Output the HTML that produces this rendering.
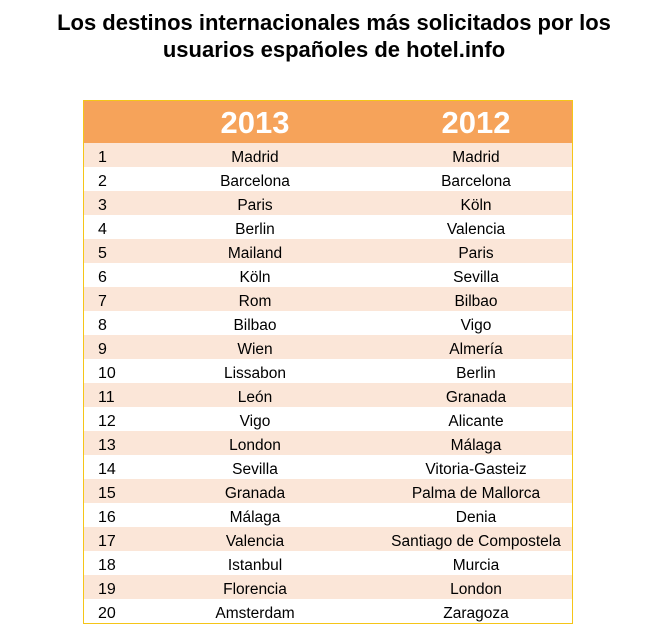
<!DOCTYPE html>
<html><head><meta charset="utf-8"><style>
body{margin:0;width:668px;height:630px;background:#fff;font-family:"Liberation Sans",Arial,sans-serif;position:relative;overflow:hidden}
#title{position:absolute;top:9px;left:0;width:668px;text-align:center;font-weight:bold;font-size:22px;line-height:27px;color:#000}
#tbl{position:absolute;left:83px;top:100px;width:488px;border:1px solid #f5c518}
.hdr{height:42px;background:#f6a35a;position:relative}
.hdr span{position:absolute;top:4px;color:#fff;font-weight:bold;font-size:31px;width:200px;text-align:center}
.row{height:24px;position:relative;font-size:15.5px;line-height:24px;color:#000}
.row span{position:absolute;top:3px}
.n{left:14px;font-size:16px}
.a{left:71px;width:200px;text-align:center}
.b{left:292px;width:200px;text-align:center}
</style></head><body>
<div id="title">Los destinos internacionales más solicitados por los<br>usuarios españoles de hotel.info</div>
<div id="tbl">
<div class="hdr"><span style="left:71px">2013</span><span style="left:292px">2012</span></div>
<div id="rows"></div>
</div>
<script>
const ranks=[1,2,3,4,5,6,7,8,9,10,11,12,13,14,15,16,17,18,19,20];
const y2013=["Madrid","Barcelona","Paris","Berlin","Mailand","Köln","Rom","Bilbao","Wien","Lissabon","León","Vigo","London","Sevilla","Granada","Málaga","Valencia","Istanbul","Florencia","Amsterdam"];
const y2012=["Madrid","Barcelona","Köln","Valencia","Paris","Sevilla","Bilbao","Vigo","Almería","Berlin","Granada","Alicante","Málaga","Vitoria-Gasteiz","Palma de Mallorca","Denia","Santiago de Compostela","Murcia","London","Zaragoza"];
const c=document.getElementById('rows');
ranks.forEach((r,i)=>{
const d=document.createElement('div');d.className='row';
d.style.background=i%2===0?'#fbe6d8':'#fff';


const s1=document.createElement('span');s1.className='n';s1.textContent=r;


const s2=document.createElement('span');s2.className='a';s2.textContent=y2013[i];


const s3=document.createElement('span');s3.className='b';s3.textContent=y2012[i];


d.append(s1,s2,s3);c.appendChild(d);
});
</script>
</body></html>
